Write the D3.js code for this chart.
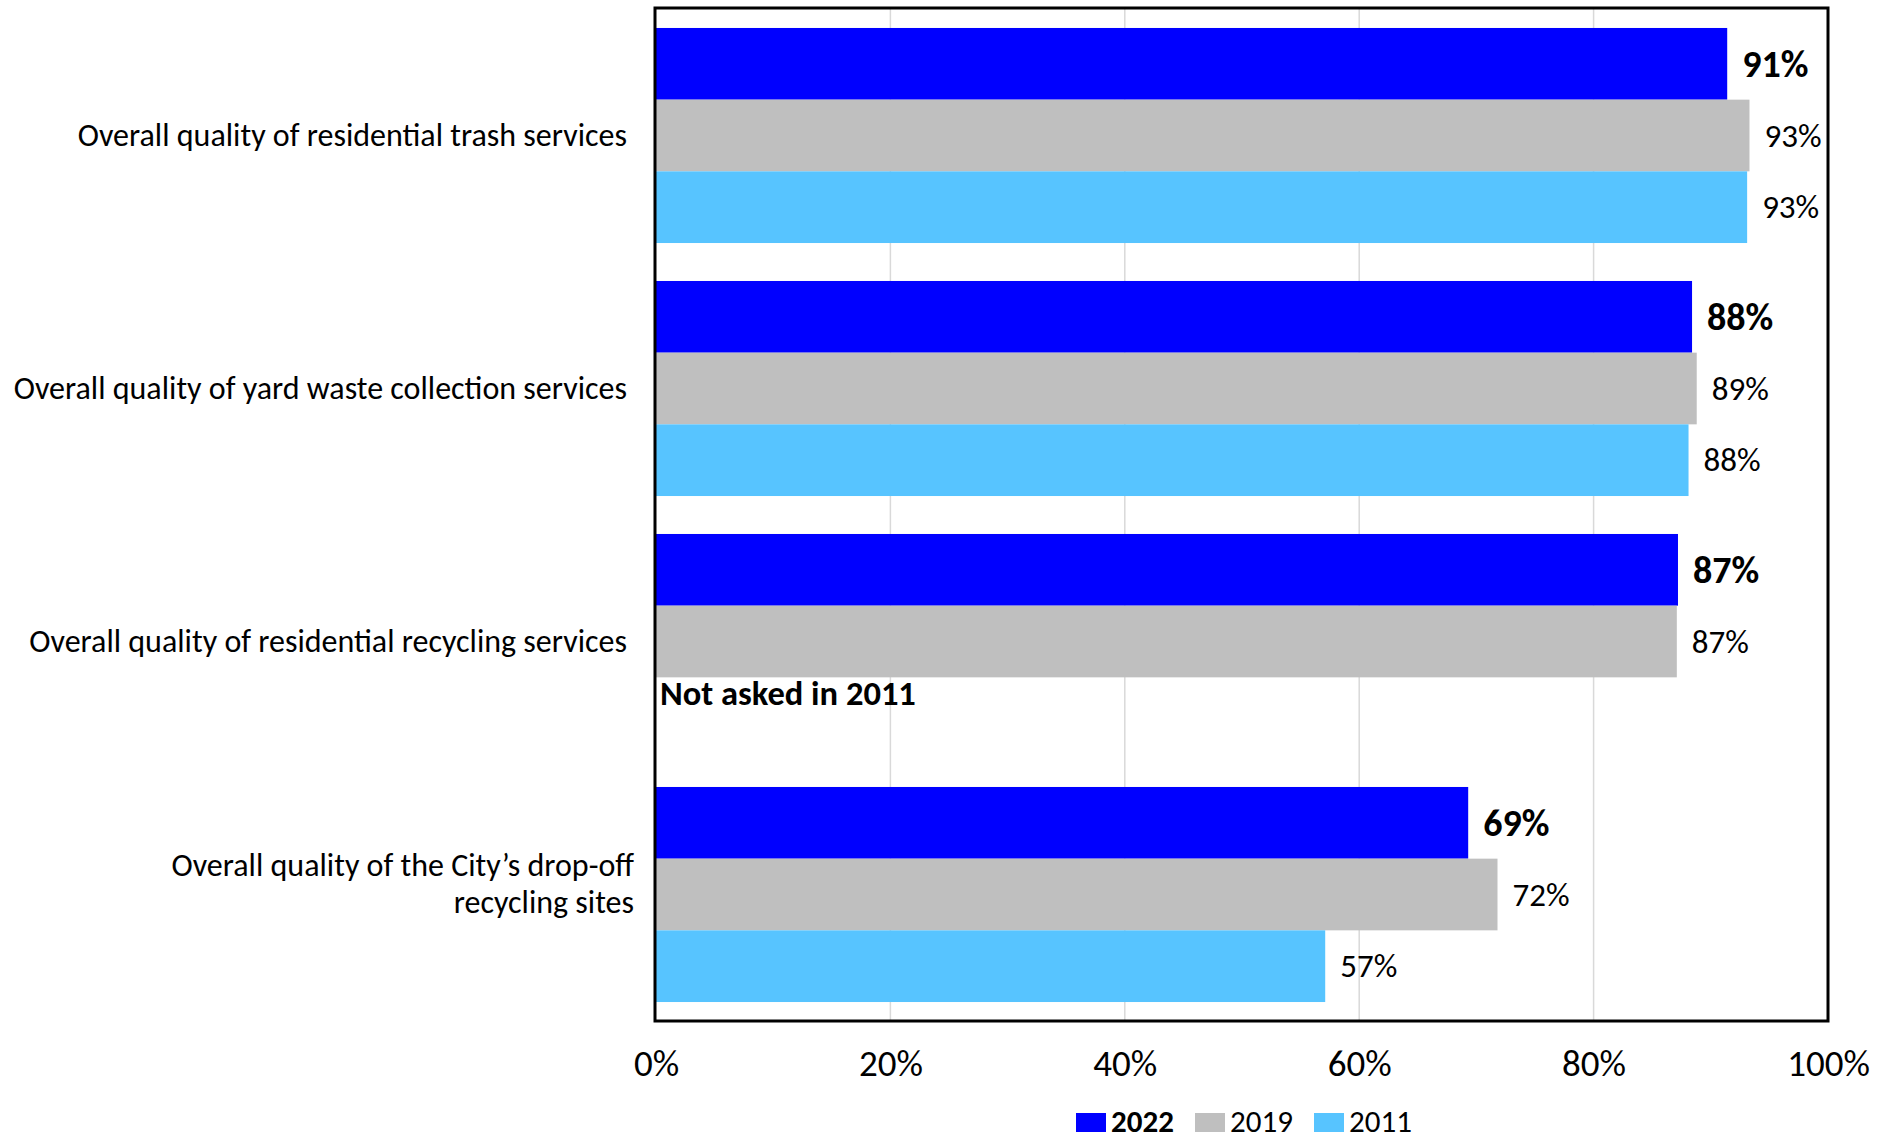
<!DOCTYPE html>
<html>
<head>
<meta charset="utf-8">
<script src="https://cdn.jsdelivr.net/npm/d3@7"></script>
<style>
  html, body { margin: 0; padding: 0; background: #fff; }
  svg { display: block; }
  text { font-family: Calibri, Carlito, Lato, "Open Sans", sans-serif; fill: #000; }
</style>
</head>
<body>
<svg id="chart" width="1895" height="1139"></svg>
<script>
// ---- data ----
const categories = [
  "Overall quality of residential trash services",
  "Overall quality of yard waste collection services",
  "Overall quality of residential recycling services",
  "Overall quality of the City’s drop-off recycling sites"
];
const categoryLines = [
  ["Overall quality of residential trash services"],
  ["Overall quality of yard waste collection services"],
  ["Overall quality of residential recycling services"],
  ["Overall quality of the City’s drop-off", "recycling sites"]
];
const seriesNames = ["2022", "2019", "2011"];
const values2022 = [0.914, 0.884, 0.872, 0.693];
const values2019 = [0.933, 0.888, 0.871, 0.718];
const values2011 = [0.931, 0.881, null, 0.571];
const seriesColors = ["#0000FF", "#BFBFBF", "#57C4FF"];
const tickValues = [0, 0.2, 0.4, 0.6, 0.8, 1.0];
const missingNote = "Not asked in 2011";

const seriesValues = [values2022, values2019, values2011];

// ---- layout ----
const svg = d3.select("#chart");
const plot = { left: 656, right: 1828, top: 9, bottom: 1021 };

const x = d3.scaleLinear().domain([0, 1]).range([plot.left, plot.right]);
const y = d3.scaleBand().domain(categories).range([plot.top, plot.bottom])
  .paddingInner(0.15).paddingOuter(0.075);
const ySub = d3.scaleBand().domain(seriesNames).range([0, y.bandwidth()]);

// gridlines
svg.append("g").selectAll("line")
  .data(tickValues.filter(d => d > 0 && d < 1))
  .join("line")
  .attr("x1", d => x(d)).attr("x2", d => x(d))
  .attr("y1", plot.top).attr("y2", plot.bottom)
  .attr("stroke", "#d9d9d9").attr("stroke-width", 1.5);

// bars
const rows = [];
categories.forEach((c, i) => {
  seriesNames.forEach((s, j) => {
    rows.push({ cat: c, series: s, si: j, value: seriesValues[j][i] });
  });
});

svg.append("g").selectAll("rect")
  .data(rows.filter(d => d.value != null))
  .join("rect")
  .attr("x", x(0))
  .attr("y", d => y(d.cat) + ySub(d.series))
  .attr("width", d => x(d.value) - x(0))
  .attr("height", ySub.bandwidth())
  .attr("fill", d => seriesColors[d.si]);

// value labels
svg.append("g").selectAll("text")
  .data(rows.filter(d => d.value != null))
  .join("text")
  .attr("x", d => x(d.value) + 15)
  .attr("y", d => y(d.cat) + ySub(d.series) + ySub.bandwidth() / 2 + (d.si === 0 ? 13 : 11))
  .attr("font-size", d => d.si === 0 ? 38 : 33)
  .attr("font-weight", d => d.si === 0 ? "bold" : "normal")
  .text(d => Math.round(d.value * 100) + "%");

// not asked note
const missingRow = rows.find(d => d.value == null);
svg.append("text")
  .attr("x", x(0) + 4)
  .attr("y", y(missingRow.cat) + ySub(missingRow.series) + 28)
  .attr("font-size", 34.5)
  .attr("font-weight", "bold")
  .text(missingNote);

// frame
svg.append("rect")
  .attr("x", plot.left - 1).attr("y", plot.top - 1)
  .attr("width", plot.right - plot.left + 1).attr("height", plot.bottom - plot.top + 1)
  .attr("fill", "none").attr("stroke", "#000").attr("stroke-width", 3);

// category labels
const catG = svg.append("g");
categories.forEach((c, i) => {
  const lines = categoryLines[i];
  const cy = y(c) + y.bandwidth() / 2;
  const lh = 37;
  const multi = lines.length > 1;
  const xr = multi ? 634 : 627;
  const startY = multi ? cy - 29 + 10 : cy + 10;
  const t = catG.append("text")
    .attr("text-anchor", "end")
    .attr("font-size", 32);
  lines.forEach((ln, k) => {
    t.append("tspan").attr("x", xr).attr("y", startY + k * lh).text(ln);
  });
});

// x axis tick labels
const xAxis = d3.axisBottom(x).tickValues(tickValues)
  .tickFormat(d => Math.round(d * 100) + "%").tickSize(0).tickPadding(0);
const axG = svg.append("g").attr("transform", `translate(0, ${plot.bottom})`).call(xAxis);
axG.select(".domain").remove();
axG.selectAll("text")
  .attr("dy", null)
  .attr("y", 55)
  .attr("font-size", 37)
  .style("font-family", 'Calibri, Carlito, Lato, "Open Sans", sans-serif')
  .attr("fill", "#000");

// legend
const legend = svg.append("g");
const legendX = [1076, 1195, 1314];
seriesNames.forEach((s, j) => {
  legend.append("rect")
    .attr("x", legendX[j]).attr("y", 1113)
    .attr("width", 30).attr("height", 19)
    .attr("fill", seriesColors[j]);
  legend.append("text")
    .attr("x", legendX[j] + 35).attr("y", 1132)
    .attr("font-size", 31)
    .attr("font-weight", j === 0 ? "bold" : "normal")
    .text(s);
});
</script>
</body>
</html>
